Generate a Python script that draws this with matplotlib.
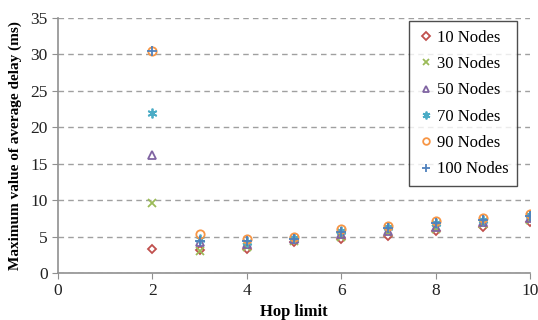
import numpy as np
import matplotlib
matplotlib.use('Agg')
import matplotlib.pyplot as plt

plt.rcParams['font.family'] = ['Liberation Serif', 'DejaVu Serif']

hops = [2, 3, 4, 5, 6, 7, 8, 9, 10]
labels = ['10 Nodes', '30 Nodes', '50 Nodes', '70 Nodes', '90 Nodes', '100 Nodes']
n10 = [3.3, 3.1, 3.3, 4.2, 4.7, 5.1, 5.7, 6.3, 7.0]
n30 = [9.6, 3.0, 3.5, 4.4, 5.0, 5.6, 6.0, 6.7, 7.3]
n50 = [16.2, 4.3, 4.0, 4.6, 5.3, 5.8, 6.3, 7.0, 7.5]
n70 = [22.0, 4.6, 4.3, 4.8, 5.8, 6.3, 6.8, 7.3, 7.9]
n90 = [30.5, 5.4, 4.6, 4.9, 6.0, 6.5, 7.1, 7.6, 8.1]
n100 = [30.5, 4.4, 4.4, 4.7, 5.6, 6.2, 6.8, 7.3, 7.8]

series = [n10, n30, n50, n70, n90, n100]
colors = ['#C0504D', '#9BBB59', '#8064A2', '#4BACC6', '#F79646', '#4F81BD']
markers = ['D', 'x', '^', (6, 2, 0), 'o', '+']
sizes = [4.5, 6, 5.5, 7, 6, 7]
filled = [False, True, False, True, False, True]

fig = plt.figure(figsize=(5.38, 3.2), dpi=100)
ax = fig.add_axes([0.108, 0.147, 0.877, 0.797])

for s, lab, c, m, ms, f in zip(series, labels, colors, markers, sizes, filled):
    if f:
        ax.plot(hops, s, linestyle='none', marker=m, color=c, ms=ms, mew=1.3, label=lab)
    else:
        ax.plot(hops, s, linestyle='none', marker=m, mfc='none', mec=c, ms=ms, mew=1.3, label=lab)

ax.set_xlim(0, 10)
ax.set_ylim(0, 35)
ax.set_xticks(np.arange(0, 11, 2))
ax.set_yticks(np.arange(0, 36, 5))
ax.yaxis.grid(True, linestyle=(0, (4, 3)), color='#A0A0A0', linewidth=1)
ax.set_axisbelow(True)
for sp in ['top', 'right']:
    ax.spines[sp].set_visible(False)
for sp in ['left', 'bottom']:
    ax.spines[sp].set_color('#909090')
    ax.spines[sp].set_linewidth(1.2)
ax.tick_params(colors='#909090', labelcolor='#222222', labelsize=12.5, length=4)

ax.set_xlabel('Hop limit', fontsize=12, fontweight='bold', labelpad=3)
ax.set_ylabel('Maximum value of average delay (ms)', fontsize=11, fontweight='bold', labelpad=6)

leg = ax.legend(loc='upper right', bbox_to_anchor=(0.972, 0.986), borderaxespad=0,
                fontsize=12, frameon=True, fancybox=False, handletextpad=0.15,
                handlelength=1.0, borderpad=0.5, labelspacing=0.62, markerscale=0.8)
leg.get_frame().set_edgecolor('#222222')
leg.get_frame().set_linewidth(1.0)

fig.savefig('out.png', dpi=100)
